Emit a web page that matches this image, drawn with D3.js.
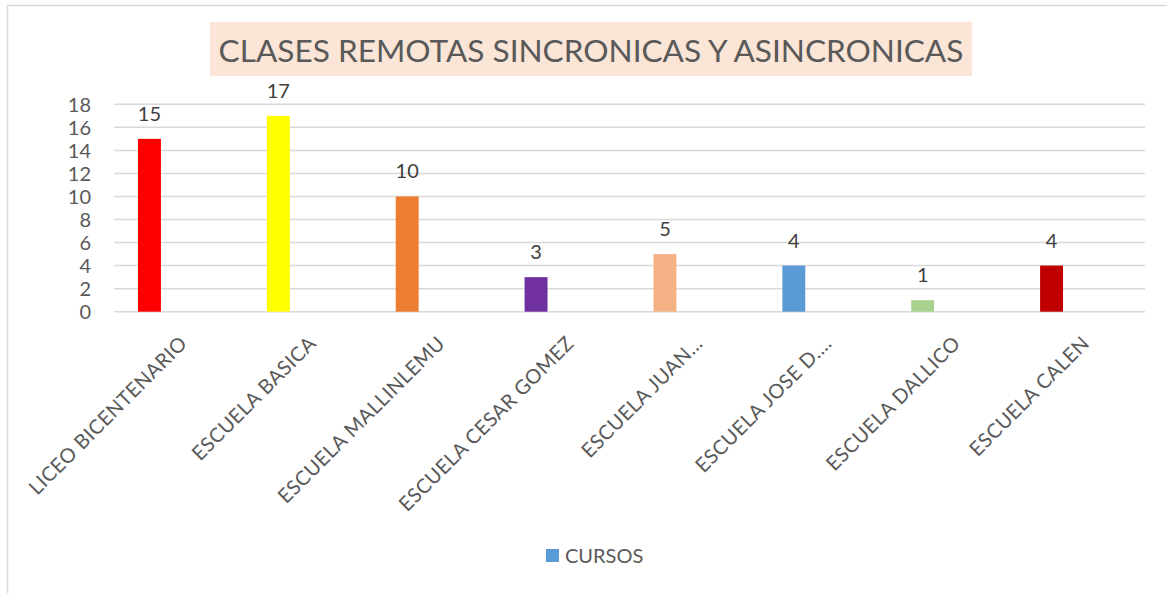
<!DOCTYPE html>
<html>
<head>
<meta charset="utf-8">
<script src="https://cdn.jsdelivr.net/npm/d3@7"></script>
<style>
  body { margin: 0; background: #fff; }
  text { font-family: Lato, "Open Sans", sans-serif; }
</style>
</head>
<body>
<div id="chart"></div>
<script>
const svgWidth = 1167
const svgHeight = 593

const chartTitle = "CLASES REMOTAS SINCRONICAS Y ASINCRONICAS"
const seriesName = "CURSOS"
const categories = [
  "LICEO BICENTENARIO",
  "ESCUELA BASICA",
  "ESCUELA MALLINLEMU",
  "ESCUELA CESAR GOMEZ",
  "ESCUELA JUAN…",
  "ESCUELA JOSE D.…",
  "ESCUELA DALLICO",
  "ESCUELA CALEN"
]
const cursos = [15, 17, 10, 3, 5, 4, 1, 4]
const barColors = ["#ff0000", "#ffff00", "#ed7d31", "#7030a0", "#f4b183", "#5b9bd5", "#a9d18e", "#c00000"]
const yTicks = [0, 2, 4, 6, 8, 10, 12, 14, 16, 18]

const margin = { top: 104.3, right: 22, bottom: 281.3, left: 114 }
const chartWidth = svgWidth - margin.left - margin.right
const chartHeight = svgHeight - margin.top - margin.bottom

const data = categories.map((c, i) => ({ name: c, value: cursos[i], color: barColors[i] }))

const svg = d3.select("#chart").append("svg")
  .attr("width", svgWidth)
  .attr("height", svgHeight)

// chart border (cut off at right and bottom in the original)
svg.append("path")
  .attr("d", `M7.5,${svgHeight + 2} V5.5 H${svgWidth + 2}`)
  .attr("fill", "none")
  .attr("stroke", "#d9d9d9")
  .attr("stroke-width", 1.5)

// title with shaded box
const titleG = svg.append("g")
titleG.append("rect")
  .attr("x", 210).attr("y", 22)
  .attr("width", 762).attr("height", 54)
  .attr("fill", "#fbe5d6")
const title = titleG.append("text")
  .attr("x", 591).attr("y", 62)
  .attr("text-anchor", "middle")
  .attr("fill", "#595959")
  .attr("font-size", 35)
  .text(chartTitle)
const tw = title.node().getComputedTextLength()
title.attr("font-size", 35 * 745 / tw)

const chartG = svg.append("g")
  .attr("transform", `translate(${margin.left}, ${margin.top})`)

const x = d3.scaleBand()
  .domain(categories)
  .range([0, chartWidth])
  .padding(0)

const y = d3.scaleLinear()
  .domain([0, 18])
  .range([chartHeight, 0])

// gridlines
chartG.append("g")
  .selectAll("line")
  .data(yTicks)
  .enter()
  .append("line")
  .attr("x1", 0)
  .attr("x2", chartWidth)
  .attr("y1", d => y(d))
  .attr("y2", d => y(d))
  .attr("stroke", "#d9d9d9")
  .attr("stroke-width", 1.5)

// y axis labels
const yAxis = d3.axisLeft(y).tickValues(yTicks).tickSize(0).tickPadding(23)
chartG.append("g")
  .call(yAxis)
  .call(g => g.select(".domain").remove())
  .selectAll("text")
  .attr("fill", "#595959")
  .attr("font-size", 20)
  .attr("font-family", "Lato, 'Open Sans', sans-serif")
  .attr("dy", "0.36em")

// bars sit left of the category centre (empty second series slot)
const barOffset = 0.186
const barWidth = 0.178

chartG.selectAll(".bar")
  .data(data)
  .enter()
  .append("rect")
  .attr("class", "bar")
  .attr("x", d => x(d.name) + x.bandwidth() * barOffset)
  .attr("y", d => y(d.value))
  .attr("width", x.bandwidth() * barWidth)
  .attr("height", d => chartHeight - y(d.value))
  .attr("fill", d => d.color)

// value labels
chartG.selectAll(".val")
  .data(data)
  .enter()
  .append("text")
  .attr("class", "val")
  .attr("x", d => x(d.name) + x.bandwidth() * (barOffset + barWidth / 2))
  .attr("y", d => y(d.value) - 18)
  .attr("text-anchor", "middle")
  .attr("fill", "#404040")
  .attr("font-size", 20)
  .text(d => d.value)

// rotated category labels
const xAxis = d3.axisBottom(x).tickSize(0).tickPadding(0)
chartG.append("g")
  .attr("transform", `translate(0, ${chartHeight})`)
  .call(xAxis)
  .call(g => g.select(".domain").remove())
  .selectAll("text")
  .attr("fill", "#595959")
  .attr("font-size", 20)
  .attr("letter-spacing", 0.4)
  .attr("font-family", "Lato, 'Open Sans', sans-serif")
  .attr("text-anchor", "end")
  .attr("dy", 0)
  .attr("y", 0)
  .attr("transform", "translate(10, 33) rotate(-45)")

// legend
const legend = svg.append("g")
  .attr("transform", `translate(546, 549)`)
legend.append("rect")
  .attr("width", 13).attr("height", 13)
  .attr("fill", "#5b9bd5")
legend.append("text")
  .attr("x", 19).attr("y", 14)
  .attr("fill", "#595959")
  .attr("font-size", 20)
  .text(seriesName)
</script>
</body>
</html>
